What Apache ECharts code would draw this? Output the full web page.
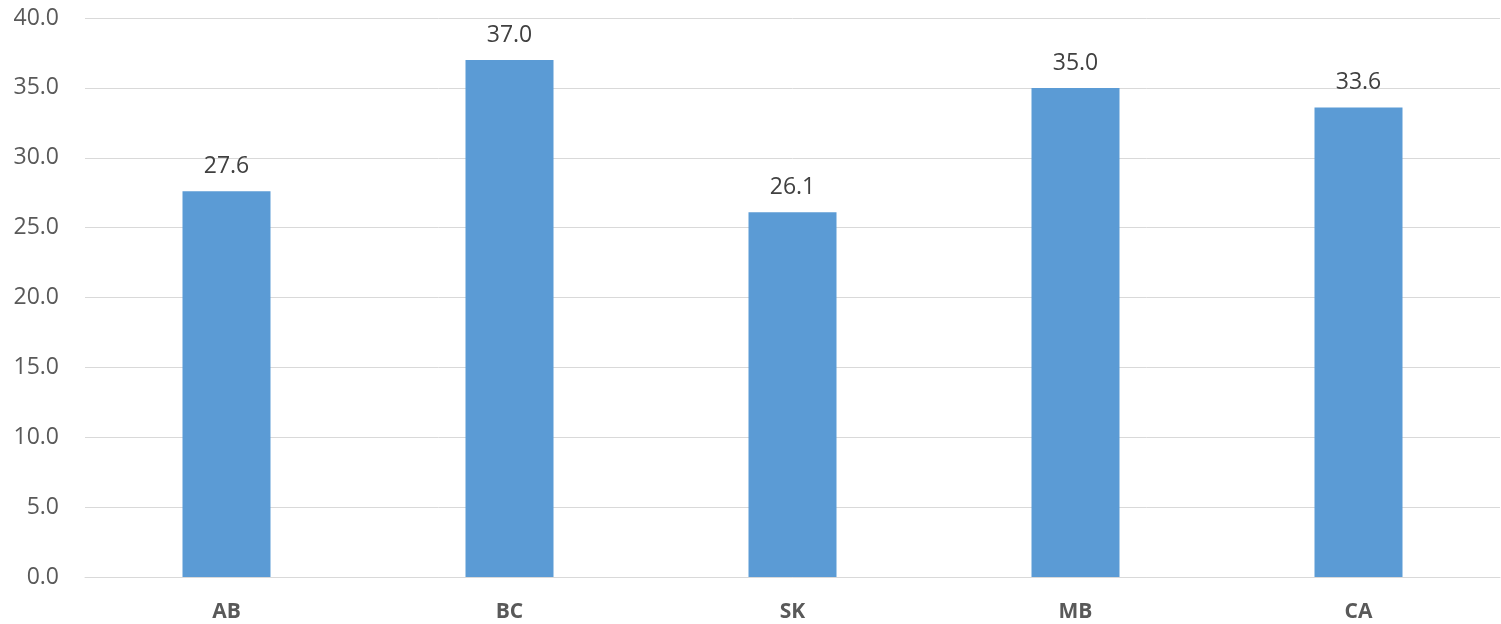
<!DOCTYPE html>
<html><head><meta charset="utf-8">
<script src="https://cdn.jsdelivr.net/npm/echarts@6/dist/echarts.min.js"></script>
<style>html,body{margin:0;padding:0;background:#fff}#c{width:1501px;height:624px}</style>
</head><body><div id="c"></div>
<script>
const categories = ['AB', 'BC', 'SK', 'MB', 'CA'];
const values = [27.6, 37.0, 26.1, 35.0, 33.6];
const yTicks = { min: 0, max: 40, interval: 5 };

const chart = echarts.init(document.getElementById('c'), null, { renderer: 'canvas' });
const font = 'Open Sans';
chart.setOption({
  animation: false,
  grid: { left: 85, right: 1, top: 18, bottom: 47, containLabel: false },
  xAxis: {
    type: 'category', data: categories,
    axisLine: { show: true, lineStyle: { color: '#D9D9D9', width: 1 } },
    axisTick: { show: false },
    axisLabel: { color: '#595959', fontSize: 21, fontWeight: 'bold', fontFamily: font, margin: 25 }
  },
  yAxis: {
    type: 'value', min: yTicks.min, max: yTicks.max, interval: yTicks.interval,
    axisLine: { show: false }, axisTick: { show: false },
    splitLine: { lineStyle: { color: '#D9D9D9', width: 1 } },
    axisLabel: { color: '#595959', fontSize: 23, fontFamily: font, margin: 26,
      formatter: v => v.toFixed(1) }
  },
  series: [{
    type: 'bar', data: values, barWidth: 88,
    itemStyle: { color: '#5B9BD5' },
    label: { show: true, position: 'top', distance: 13, color: '#404040', fontSize: 23, fontFamily: font,
      formatter: p => p.value.toFixed(1) }
  }]
});
</script></body></html>
